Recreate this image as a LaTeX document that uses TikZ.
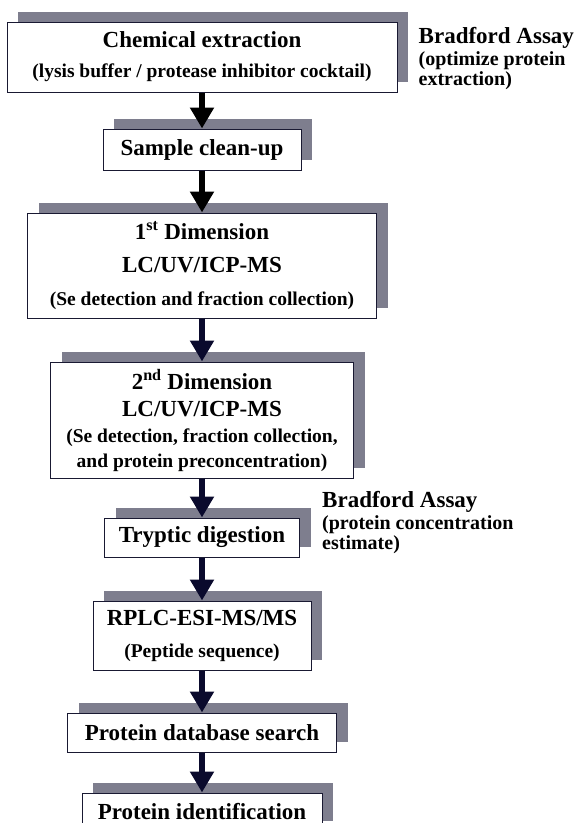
\documentclass[tikz,border=0pt]{standalone}
\usepackage{fontspec}
\setmainfont{Liberation Serif}
\usetikzlibrary{arrows.meta,positioning,shadows}
\newcommand{\subsize}{\fontsize{19.5}{24}\selectfont}

\begin{document}
\begin{tikzpicture}[
  x=1pt, y=1pt,
  font=\bfseries\fontsize{23}{30}\selectfont,
  box/.style={draw=edge, fill=white, line width=1pt, align=center, inner sep=0pt,
    drop shadow={shadow xshift=11pt, shadow yshift=10pt, fill=shade, opacity=1}},
  flow/.style={line width=6pt, -{Triangle[width=23pt, length=21pt]}},
  note/.style={align=left, inner sep=0pt, font=\bfseries\fontsize{20}{20}\selectfont}
]

\definecolor{edge}{RGB}{25,25,50}
\definecolor{shade}{RGB}{126,126,142}
\definecolor{navy}{RGB}{10,10,45}

\useasboundingbox (0,0) rectangle (581,-823);

\node[box, minimum width=390pt, minimum height=70pt] (extract) at (202,-57)
  {Chemical extraction\\{\subsize (lysis buffer / protease inhibitor cocktail)}};
\node[box, minimum width=198pt, minimum height=41pt, below=36pt of extract] (cleanup) {Sample clean-up};
\node[box, minimum width=349pt, minimum height=105pt, below=42pt of cleanup] (firstdim)
  {1\textsuperscript{st} Dimension\\[3pt]LC/UV/ICP-MS\\[3pt]{\subsize (Se detection and fraction collection)}};
\node[box, minimum width=303pt, minimum height=116pt, below=43pt of firstdim] (seconddim)
  {2\textsuperscript{nd} Dimension\\[-3pt]LC/UV/ICP-MS\\[-4pt]{\subsize (Se detection, fraction collection,}\\[-5pt]{\subsize and protein preconcentration)}};
\node[box, minimum width=195pt, minimum height=39pt, below=39pt of seconddim] (digest) {Tryptic digestion};
\node[box, minimum width=218pt, minimum height=69pt, below=43pt of digest] (rplc)
  {RPLC-ESI-MS/MS\\[2pt]{\subsize (Peptide sequence)}};
\node[box, minimum width=269pt, minimum height=39pt, below=42pt of rplc] (dbsearch) {Protein database search};
\node[box, minimum width=240pt, minimum height=38pt, below=40pt of dbsearch] (ident) {Protein identification};

\node[note, right=21pt of extract, yshift=-2pt] (assay1)
  {{\fontsize{23}{23}\selectfont Bradford Assay}\\[2pt](optimize protein\\extraction)};
\node[note, right=22pt of digest, yshift=15pt] (assay2)
  {{\fontsize{23}{23}\selectfont Bradford Assay}\\[2pt](protein concentration\\estimate)};

\draw[flow, draw=black] (extract) -- (cleanup);
\draw[flow, draw=black] (cleanup) -- (firstdim);
\draw[flow, draw=navy] (firstdim) -- (seconddim);
\draw[flow, draw=navy] (seconddim) -- (digest);
\draw[flow, draw=navy] (digest) -- (rplc);
\draw[flow, draw=navy] (rplc) -- (dbsearch);
\draw[flow, draw=navy] (dbsearch) -- (ident);

\end{tikzpicture}
\end{document}
